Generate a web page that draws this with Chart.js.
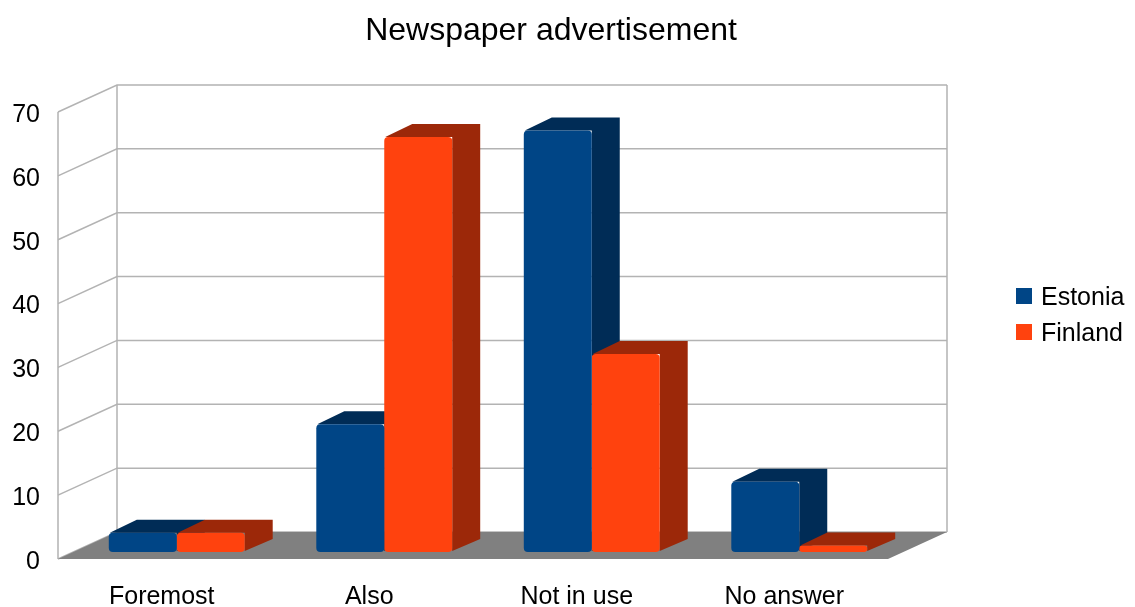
<!DOCTYPE html>
<html>
<head>
<meta charset="utf-8">
<script src="https://cdn.jsdelivr.net/npm/chart.js@4/dist/chart.umd.min.js"></script>
<style>
  html, body { margin: 0; padding: 0; background: #fff; }
  #wrap { width: 1135px; height: 607px; position: relative; }
</style>
</head>
<body>
<div id="wrap"><canvas id="myChart"></canvas></div>
<script>
var categories = ["Foremost", "Also", "Not in use", "No answer"];
var estonia = [3, 20, 66, 11];
var finland = [3, 65, 31, 1];
var seriesNames = ["Estonia", "Finland"];
var frontColors = ["#004586", "#ff420e"];
var darkColors = ["#002c56", "#9c2809"];
var yMax = 70;
var yStep = 10;

var FONT = "'Liberation Sans', Arial, sans-serif";
// oblique offsets relative to the bar front plane
var frontOff = { x: -15, y: 7 };
var backOff = { x: 44, y: -20 };
var barDepth = { x: 28, y: -13 };

var box3d = {
    id: "box3d",
    beforeDatasetsDraw: function (chart) {
        var ctx = chart.ctx;
        var a = chart.chartArea;
        var y = chart.scales.y;
        ctx.save();
        ctx.strokeStyle = "#b3b3b3";
        ctx.lineWidth = 1.5;
        var fl = a.left + frontOff.x, bl = a.left + backOff.x, br = a.right + backOff.x;
        // grid lines on left + back wall
        for (var v = 0; v <= yMax; v += yStep) {
            var py = y.getPixelForValue(v);
            ctx.beginPath();
            ctx.moveTo(fl, py + frontOff.y);
            ctx.lineTo(bl, py + backOff.y);
            ctx.lineTo(br, py + backOff.y);
            ctx.stroke();
        }
        var ptop = y.getPixelForValue(yMax), pbot = y.getPixelForValue(0);
        ctx.beginPath();
        ctx.moveTo(fl, ptop + frontOff.y); ctx.lineTo(fl, pbot + frontOff.y);
        ctx.moveTo(bl, ptop + backOff.y); ctx.lineTo(bl, pbot + backOff.y);
        ctx.moveTo(br, ptop + backOff.y); ctx.lineTo(br, pbot + backOff.y);
        ctx.stroke();
        // floor
        ctx.fillStyle = "#808080";
        ctx.beginPath();
        ctx.moveTo(fl, pbot + frontOff.y);
        ctx.lineTo(bl, pbot + backOff.y);
        ctx.lineTo(br, pbot + backOff.y);
        ctx.lineTo(a.right + frontOff.x, pbot + frontOff.y);
        ctx.closePath();
        ctx.fill();
        // top and side faces of the bars
        chart.data.datasets.forEach(function (ds, i) {
            chart.getDatasetMeta(i).data.forEach(function (bar) {
                var p = bar.getProps(["x", "y", "width", "base"], true);
                var l = p.x - p.width / 2, r = p.x + p.width / 2;
                ctx.fillStyle = darkColors[i];
                ctx.beginPath();
                ctx.moveTo(l + 1, p.y);
                ctx.lineTo(l + barDepth.x, p.y + barDepth.y);
                ctx.lineTo(r + barDepth.x, p.y + barDepth.y);
                ctx.lineTo(r + barDepth.x, p.base + barDepth.y);
                ctx.lineTo(r, p.base - 1);
                ctx.lineTo(r, p.y);
                ctx.closePath();
                ctx.fill();
            });
        });
        ctx.restore();
    },
    afterDraw: function (chart) {
        var ctx = chart.ctx;
        ctx.save();
        ctx.fillStyle = "#000";
        ctx.textBaseline = "alphabetic";
        ctx.font = "32px " + FONT;
        ctx.textAlign = "center";
        ctx.fillText("Newspaper advertisement", 551, 40);
        ctx.font = "25px " + FONT;
        ctx.textAlign = "left";
        seriesNames.forEach(function (name, i) {
            ctx.fillStyle = frontColors[i];
            ctx.fillRect(1016, 288 + i * 36, 16, 16);
            ctx.fillStyle = "#000";
            ctx.fillText(name, 1041, 305 + i * 36);
        });
        ctx.restore();
    }
};

new Chart("myChart", {
    type: "bar",
    data: {
        labels: categories,
        datasets: [{
            label: seriesNames[0],
            data: estonia,
            backgroundColor: frontColors[0],
            borderRadius: 4,
            borderSkipped: false
        }, {
            label: seriesNames[1],
            data: finland,
            backgroundColor: frontColors[1],
            borderRadius: 4,
            borderSkipped: false
        }]
    },
    options: {
        responsive: true,
        maintainAspectRatio: false,
        animation: false,
        categoryPercentage: 0.655,
        barPercentage: 1,
        layout: { padding: { top: 105, right: 232, bottom: 0, left: 0 } },
        plugins: {
            legend: { display: false },
            title: { display: false },
            tooltip: { enabled: false }
        },
        scales: {
            x: {
                grid: { display: false, drawTicks: false },
                border: { display: false },
                ticks: {
                    color: "#000",
                    font: { family: FONT, size: 25 },
                    padding: 30,
                    labelOffset: -15,
                    maxRotation: 0,
                    autoSkip: false
                },
                afterFit: function (s) { s.height = 55; }
            },
            y: {
                min: 0,
                max: yMax,
                grid: { display: false, drawTicks: false },
                border: { display: false },
                ticks: {
                    stepSize: yStep,
                    color: "#000",
                    font: { family: FONT, size: 25 },
                    padding: 33,
                    labelOffset: 10
                },
                afterFit: function (s) { s.width = 73; }
            }
        }
    },
    plugins: [box3d]
});
</script>
</body>
</html>
